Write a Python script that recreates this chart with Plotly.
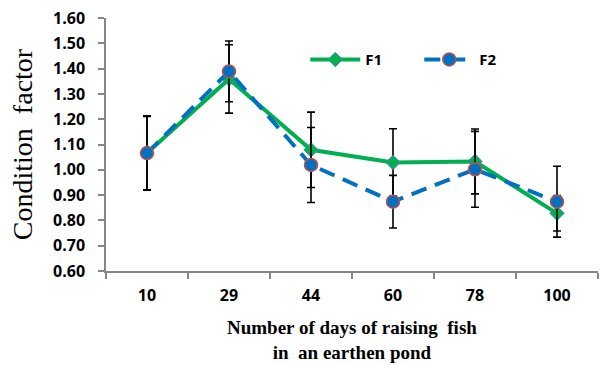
import plotly.graph_objects as go

days = ["10", "29", "44", "60", "78", "100"]
f1_values = [1.066, 1.359, 1.079, 1.029, 1.033, 0.828]
f1_errors = [0.145, 0.135, 0.149, 0.133, 0.128, 0.07]
f2_values = [1.066, 1.389, 1.019, 0.874, 1.002, 0.874]
f2_errors = [0.147, 0.12, 0.148, 0.104, 0.15, 0.14]
y_ticks = [0.6, 0.7, 0.8, 0.9, 1.0, 1.1, 1.2, 1.3, 1.4, 1.5, 1.6]

fig = go.Figure()
fig.add_trace(go.Scatter(
    x=days, y=f1_values, name="F1", mode="lines+markers",
    line=dict(color="#00B050", width=4),
    marker=dict(symbol="diamond", size=11, color="#00B050",
                line=dict(color="#4F81BD", width=1)),
    error_y=dict(type="data", array=f1_errors, visible=True,
                 color="#000000", thickness=1.6, width=4),
))
fig.add_trace(go.Scatter(
    x=days, y=f2_values, name="F2", mode="lines+markers",
    line=dict(color="#0070C0", width=4, dash="16px,9px"),
    marker=dict(symbol="circle", size=13, color="#0070C0",
                line=dict(color="#C0504D", width=1.5)),
    error_y=dict(type="data", array=f2_errors, visible=True,
                 color="#000000", thickness=1.6, width=4),
))

axis_font = dict(family="Open Sans", size=16, color="#000000", weight="bold")

fig.update_layout(
    width=600, height=365,
    margin=dict(l=106, r=2, t=18, b=94, autoexpand=False),
    paper_bgcolor="white", plot_bgcolor="white",
    showlegend=True,
    legend=dict(orientation="h", x=0.405, y=0.835, xanchor="left", yanchor="middle",
                font=dict(family="Open Sans", size=15, color="#000000", weight="bold"),
                bgcolor="rgba(0,0,0,0)", itemwidth=50, entrywidth=49,
                entrywidthmode="pixels", tracegroupgap=0),
    xaxis=dict(type="category", range=[-0.5, 5.5], showline=True, linecolor="#868686",
               linewidth=1.5, ticks="outside", tickson="boundaries", ticklen=6,
               tickcolor="#868686", tickwidth=1.5, showgrid=False, zeroline=False,
               tickfont=axis_font, ticklabelstandoff=9, automargin=False),
    yaxis=dict(range=[0.6, 1.6], tickvals=y_ticks, tickformat=".2f", showline=True,
               linecolor="#868686", linewidth=1.5, ticks="outside", ticklen=6,
               tickcolor="#868686", tickwidth=1.5, showgrid=False, zeroline=False,
               tickfont=axis_font, ticklabelstandoff=10, automargin=False,
               title=dict(text="Condition  factor", standoff=12,
                          font=dict(family="Liberation Serif", size=28, color="#000000"))),
)

fig.add_annotation(
    text="<b>Number of days of raising  fish</b><br><b>in  an earthen pond</b>",
    xref="paper", yref="paper", x=0.5, y=-0.172, xanchor="center", yanchor="top",
    showarrow=False, align="center",
    font=dict(family="Liberation Serif", size=19, color="#000000"),
)

fig.write_html("out.html", config={"displayModeBar": False},
               post_script="document.body.style.margin='0';")
